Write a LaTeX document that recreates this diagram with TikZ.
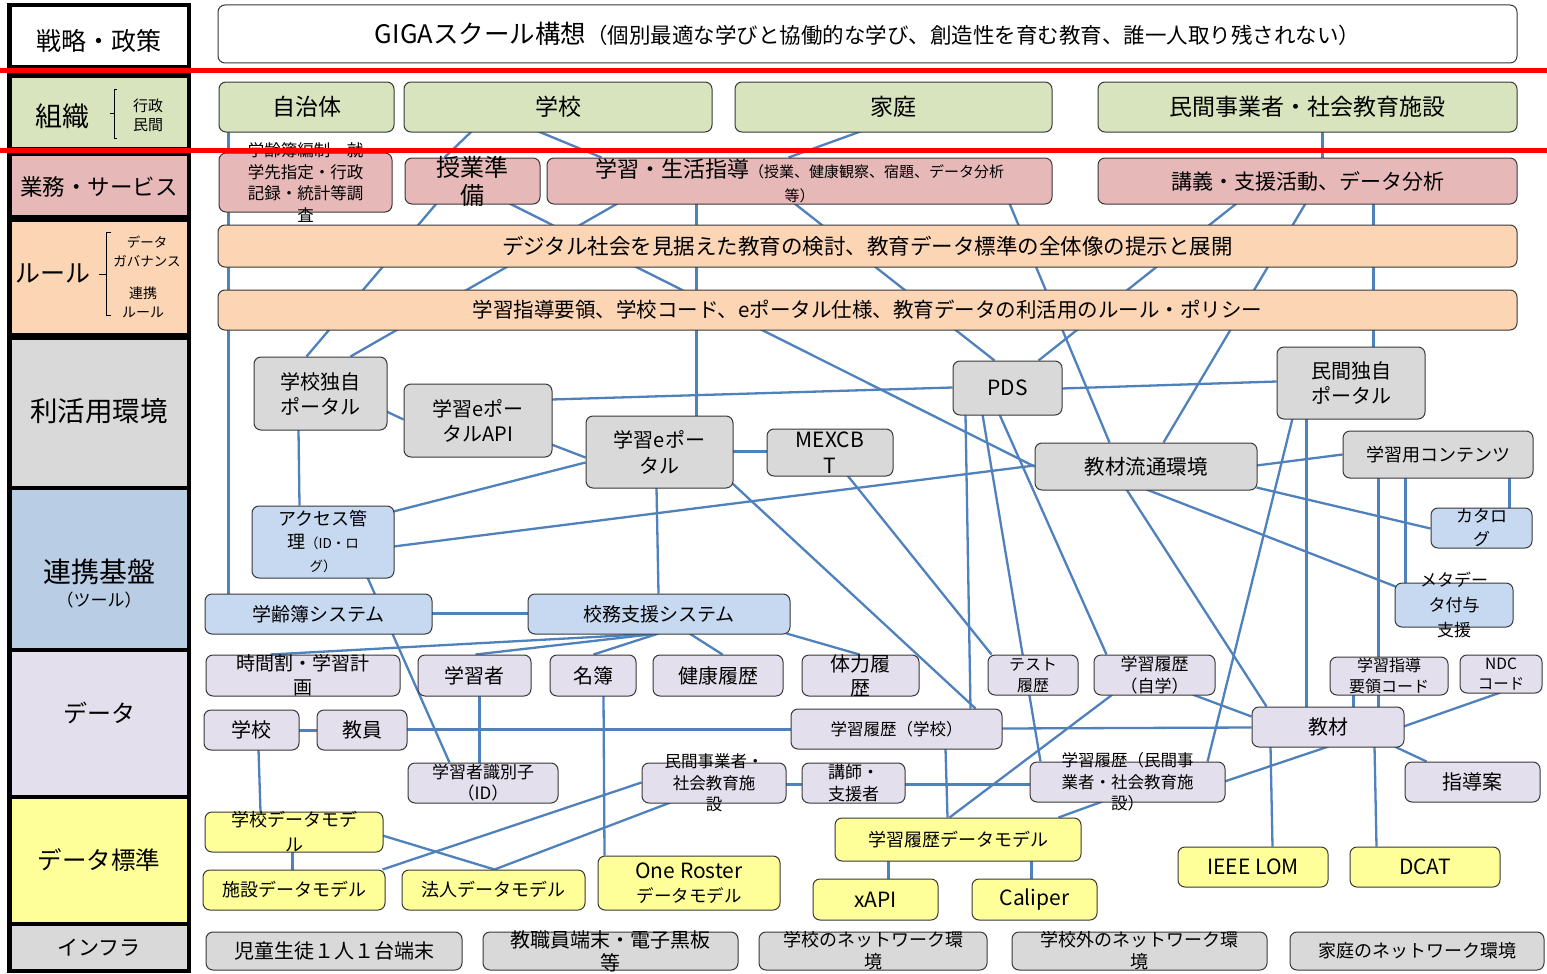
\documentclass[tikz,border=0pt]{standalone}
\usepackage{fontspec}
\setmainfont{Noto Sans CJK JP}
\usetikzlibrary{backgrounds}
\definecolor{cgreen}{HTML}{D7E4BD}
\definecolor{cpink}{HTML}{E6B9B8}
\definecolor{cpeach}{HTML}{FCD5B5}
\definecolor{cgrey}{HTML}{D9D9D9}
\definecolor{cblue}{HTML}{C6D9F1}
\definecolor{cbluecat}{HTML}{B9CDE5}
\definecolor{clav}{HTML}{E4DFEC}
\definecolor{cyel}{HTML}{FFFF99}
\definecolor{cline}{HTML}{4F81BD}
\newcommand\fs[2]{\fontsize{#1}{#2}\selectfont}
\newcommand\bx[8]{\node[#6, minimum width={(#4-#2)*1pt}, minimum height={(#5-#3)*1pt}, label={[lab,#7]center:{#8}}] (#1) at ({(#2+#4)/2},{(#3+#5)/2}) {};}
\newcommand\cn[6]{\draw[conn] ([xshift=#2pt,yshift=-#3pt]#1.north west) -- ([xshift=#5pt,yshift=-#6pt]#4.north west);}
\tikzset{
 lab/.style={inner sep=0pt, align=center, text=black},
 box/.style={draw=black!78, line width=1pt, rounded corners=7pt, inner sep=0pt},
 bw/.style={box, fill=white},
 bg/.style={box, fill=cgreen},
 bp/.style={box, fill=cpink},
 bo/.style={box, fill=cpeach},
 bgr/.style={box, fill=cgrey},
 bb/.style={box, fill=cblue},
 bl/.style={box, fill=clav},
 by/.style={box, fill=cyel},
 cat/.style={draw=black, line width=4.5pt, inner sep=0pt},
 ct/.style={inner sep=0pt, align=center, text=black},
 conn/.style={draw=cline, line width=2.3pt},
 redl/.style={draw=red, line width=5pt},
 brk/.style={draw=black, line width=1pt},
}
\begin{document}
\begin{tikzpicture}[x=1pt,y=-1pt]
\useasboundingbox (0,0) rectangle (1547,974);
\begin{pgfonlayer}{background}
\fill[white] (0,0) rectangle (1547,974);
\end{pgfonlayer}
% ---------- left category column ----------
\bx{c-senryaku}{9.5}{5}{189}{67}{cat,fill=white}{}{}
\bx{c-soshiki}{9.5}{75.5}{189}{149.5}{cat,fill=cgreen}{}{}
\bx{c-gyomu}{9.5}{154}{189}{217}{cat,fill=cpink}{}{}
\bx{c-rule}{9.5}{220}{189}{335}{cat,fill=cpeach}{}{}
\bx{c-rikatsu}{9.5}{338}{189}{488}{cat,fill=cgrey}{}{}
\bx{c-renkei}{9.5}{488}{189}{650}{cat,fill=cbluecat}{}{}
\bx{c-data}{9.5}{650}{189}{797}{cat,fill=clav}{}{}
\bx{c-hyojun}{9.5}{797}{189}{924}{cat,fill=cyel}{}{}
\bx{c-infra}{9.5}{924}{189}{971}{cat,fill=cgrey}{}{}
\node[ct,font=\fs{25}{30}] (ct-senryaku) at (99,41) {戦略・政策};
\node[ct,font=\fs{27}{30}] (ct-soshiki) at (62,116) {組織};
\node[ct,font=\fs{15}{19}] (ct-gyosei) at (148,115) {行政\\民間};
\node[ct,font=\fs{22.5}{30}] (ct-gyomu) at (99,187) {業務・サービス};
\node[ct,font=\fs{25}{30}] (ct-rule) at (53,273) {ルール};
\node[ct,font=\fs{13.5}{19}] (ct-gov) at (147,252) {データ\\ガバナンス};
\node[ct,font=\fs{14}{19}] (ct-renkeirule) at (143,302) {連携\\ルール};
\node[ct,font=\fs{27.5}{30}] (ct-rikatsu) at (99,411) {利活用環境};
\node[ct,font=\fs{28}{30}] (ct-renkei) at (99,572) {連携基盤};
\node[ct,font=\fs{17}{22}] (ct-tool) at (99,600) {（ツール）};
\node[ct,font=\fs{24}{30}] (ct-data) at (99,713) {データ};
\node[ct,font=\fs{24.5}{30}] (ct-hyojun) at (99,860) {データ標準};
\node[ct,font=\fs{21}{26}] (ct-infra) at (99,948) {インフラ};
\draw[brk] (117,89) -- (114,89) -- (114,138) -- (117,138) (114,113) -- (110,113);
\draw[brk] (111,232) -- (106,232) -- (106,315) -- (111,315) (106,274) -- (99,274);
% ---------- strategy ----------
\bx{giga}{218}{5}{1517}{63}{bw}{}{{\fs{25.5}{30}GIGAスクール構想}{\fs{21.5}{30}（個別最適な学びと協働的な学び、創造性を育む教育、誰一人取り残されない）}}
% ---------- organisation ----------
\bx{o-jichi}{219}{82}{394}{132}{bg}{font=\fs{23}{28}}{自治体}
\bx{o-gakko}{404}{82}{712}{132}{bg}{font=\fs{23}{28}}{学校}
\bx{o-katei}{735}{82}{1052}{132}{bg}{font=\fs{23}{28}}{家庭}
\bx{o-minkan}{1098}{82}{1517}{132}{bg}{font=\fs{23}{28}}{民間事業者・社会教育施設}
% ---------- services ----------
\bx{s-gakurei}{219}{153}{392}{212}{bp}{font=\fs{16.5}{21.7}}{学齢簿編制・就\\学先指定・行政\\記録・統計等調\\査}
\bx{s-jugyo}{405}{158}{540}{204}{bp}{font=\fs{24}{28}}{授業準\\備}
\bx{s-gakushu}{547}{158}{1052}{204}{bp}{font=\fs{15}{24}}{{\fs{22}{24}学習・生活指導}（授業、健康観察、宿題、データ分析\\等）}
\bx{s-kogi}{1098}{158}{1517}{204}{bp}{font=\fs{21}{26}}{講義・支援活動、データ分析}
% ---------- rules ----------
\bx{r-1}{218}{225}{1517}{267}{bo}{font=\fs{21.5}{26}}{デジタル社会を見据えた教育の検討、教育データ標準の全体像の提示と展開}
\bx{r-2}{218}{290}{1517}{330}{bo}{font=\fs{20.5}{26}}{学習指導要領、学校コード、eポータル仕様、教育データの利活用のルール・ポリシー}
% ---------- usage environment ----------
\bx{u-gportal}{254}{357}{387}{430}{bgr}{font=\fs{20}{25}}{学校独自\\ポータル}
\bx{u-api}{404}{384}{552}{457}{bgr}{font=\fs{20}{25}}{学習eポー\\タルAPI}
\bx{u-eportal}{586}{416}{733}{488}{bgr}{font=\fs{20}{26}}{学習eポー\\タル}
\bx{u-mexcbt}{767}{429}{893}{476}{bgr}{font=\fs{21}{26}}{MEXCB\\T}
\bx{u-pds}{953}{361}{1062}{415}{bgr}{font=\fs{21}{26}}{PDS}
\bx{u-mportal}{1277}{347}{1425}{419}{bgr}{font=\fs{20}{25}}{民間独自\\ポータル}
\bx{u-kyozai}{1035}{443}{1257}{490}{bgr}{font=\fs{20.5}{26}}{教材流通環境}
\bx{u-contents}{1343}{431}{1533}{478}{bgr}{font=\fs{18}{24}}{学習用コンテンツ}
% ---------- platform ----------
\bx{t-access}{252}{506}{394}{578}{bb}{font=\fs{18}{23}}{アクセス管\\理{\fs{13.5}{23}（ID・ロ}\\{\fs{13.5}{21}グ）}}
\bx{t-catalog}{1431}{508}{1532}{548}{bb}{font=\fs{17}{23}}{カタロ\\グ}
\bx{t-meta}{1395}{583}{1513}{627}{bb}{font=\fs{17}{25}}{メタデー\\タ付与\\支援}
\bx{t-gakurei}{205}{594}{432}{634}{bb}{font=\fs{19}{24}}{学齢簿システム}
\bx{t-komu}{528}{594}{790}{634}{bb}{font=\fs{19}{24}}{校務支援システム}
% ---------- data ----------
\bx{d-jikan}{206}{655}{400}{696}{bl}{font=\fs{19}{24}}{時間割・学習計\\画}
\bx{d-gakusha}{418}{655}{531}{696}{bl}{font=\fs{20}{24}}{学習者}
\bx{d-meibo}{550}{655}{636}{696}{bl}{font=\fs{20}{24}}{名簿}
\bx{d-kenko}{653}{655}{783}{696}{bl}{font=\fs{20}{24}}{健康履歴}
\bx{d-tairyoku}{802}{655}{919}{696}{bl}{font=\fs{20}{24}}{体力履\\歴}
\bx{d-test}{988}{655}{1078}{695}{bl}{font=\fs{16}{21}}{テスト\\履歴}
\bx{d-jigaku}{1094}{655}{1215}{695}{bl}{font=\fs{17}{22}}{学習履歴\\（自学）}
\bx{d-shido}{1330}{657}{1448}{695}{bl}{font=\fs{16}{21}}{学習指導\\要領コード}
\bx{d-ndc}{1460}{655}{1542}{693}{bl}{font=\fs{15.5}{20}}{NDC\\コード}
\bx{d-gakko}{204}{710}{299}{750}{bl}{font=\fs{20}{24}}{学校}
\bx{d-kyoin}{317}{710}{407}{750}{bl}{font=\fs{20}{24}}{教員}
\bx{d-rgakko}{791}{709}{1002}{749}{bl}{font=\fs{16.5}{22}}{学習履歴（学校）}
\bx{d-kyozai}{1252}{707}{1404}{747}{bl}{font=\fs{20}{24}}{教材}
\bx{d-id}{408}{763}{558}{803}{bl}{font=\fs{17}{21}}{学習者識別子\\（ID）}
\bx{d-minkan}{642}{763}{786}{803}{bl}{font=\fs{16.5}{21.5}}{民間事業者・\\社会教育施\\設}
\bx{d-koshi}{802}{763}{905}{803}{bl}{font=\fs{17}{22}}{講師・\\支援者}
\bx{d-rminkan}{1030}{762}{1225}{802}{bl}{font=\fs{16.5}{21.5}}{学習履歴（民間事\\業者・社会教育施\\設）}
\bx{d-shidoan}{1405}{762}{1540}{802}{bl}{font=\fs{20}{24}}{指導案}
% ---------- data standards ----------
\bx{m-gakko}{205}{812}{383}{852}{by}{font=\fs{18}{25}}{学校データモデ\\ル}
\bx{m-shisetsu}{203}{870}{385}{910}{by}{font=\fs{18}{24}}{施設データモデル}
\bx{m-hojin}{402}{870}{585}{910}{by}{font=\fs{18}{24}}{法人データモデル}
\bx{m-oneroster}{598}{856}{780}{910}{by}{font=\fs{17.5}{24}}{{\fs{21}{24}One Roster}\\データモデル}
\bx{m-rireki}{835}{818}{1081}{861}{by}{font=\fs{18}{24}}{学習履歴データモデル}
\bx{m-xapi}{813}{879}{938}{920}{by}{font=\fs{21}{24}}{xAPI}
\bx{m-caliper}{972}{879}{1097}{920}{by}{font=\fs{21}{24}}{Caliper}
\bx{m-lom}{1178}{847}{1328}{887}{by}{font=\fs{21}{24}}{IEEE LOM}
\bx{m-dcat}{1350}{847}{1500}{887}{by}{font=\fs{21}{24}}{DCAT}
% ---------- infrastructure ----------
\bx{i-1}{206}{932}{462}{970}{bgr}{font=\fs{20}{24}}{児童生徒１人１台端末}
\bx{i-2}{483}{932}{738}{970}{bgr}{font=\fs{20}{23}}{教職員端末・電子黒板\\等}
\bx{i-3}{759}{932}{987}{970}{bgr}{font=\fs{18}{22}}{学校のネットワーク環\\境}
\bx{i-4}{1012}{932}{1267}{970}{bgr}{font=\fs{18}{22}}{学校外のネットワーク環\\境}
\bx{i-5}{1290}{932}{1544}{970}{bgr}{font=\fs{18}{22}}{家庭のネットワーク環境}
% ---------- connectors (behind boxes) ----------
\begin{pgfonlayer}{background}
\cn{o-jichi}{10}{50}{t-gakurei}{24}{0}
\cn{o-gakko}{68}{50}{s-jugyo}{40}{0}
\cn{o-gakko}{135}{50}{s-gakushu}{55}{0}
\cn{o-katei}{126}{50}{s-gakushu}{242}{0}
\cn{o-minkan}{225}{50}{s-kogi}{225}{0}
\cn{s-jugyo}{32}{46}{u-gportal}{53}{0}
\cn{s-gakushu}{71}{46}{u-gportal}{97}{0}
\cn{s-jugyo}{105}{46}{u-kyozai}{0}{24}
\cn{s-gakushu}{150}{46}{u-eportal}{111}{0}
\cn{s-gakushu}{248}{46}{u-pds}{42}{0}
\cn{s-gakushu}{463}{46}{u-kyozai}{75}{0}
\cn{s-kogi}{139}{46}{u-pds}{86}{0}
\cn{s-kogi}{208}{46}{u-kyozai}{129}{0}
\cn{s-kogi}{276}{46}{u-mportal}{97}{0}
\cn{u-gportal}{133}{55}{u-api}{0}{36}
\cn{u-api}{148}{16}{u-pds}{0}{27}
\cn{u-pds}{109}{28}{u-mportal}{0}{35}
\cn{u-api}{148}{61}{u-eportal}{0}{42}
\cn{u-eportal}{147}{36}{u-mexcbt}{0}{23}
\cn{u-eportal}{0}{47}{t-access}{142}{6}
\cn{t-access}{142}{41}{u-kyozai}{0}{23}
\cn{u-gportal}{45}{73}{t-access}{48}{0}
\cn{u-eportal}{71}{72}{t-komu}{131}{0}
\cn{u-eportal}{147}{68}{d-rgakko}{185}{0}
\cn{t-gakurei}{227}{20}{t-komu}{0}{20}
\cn{t-access}{116}{72}{d-id}{42}{0}
\cn{t-komu}{131}{40}{d-jikan}{65}{0}
\cn{t-komu}{131}{40}{d-gakusha}{58}{0}
\cn{t-komu}{131}{40}{d-meibo}{44}{0}
\cn{t-komu}{162}{40}{d-kenko}{70}{0}
\cn{t-komu}{259}{40}{d-tairyoku}{58}{0}
\cn{u-mexcbt}{81}{47}{d-test}{4}{0}
\cn{u-pds}{13}{54}{d-rgakko}{180}{0}
\cn{u-pds}{30}{54}{d-rminkan}{11}{0}
\cn{u-pds}{47}{54}{d-jigaku}{13}{0}
\cn{u-mportal}{16}{72}{d-rminkan}{178}{0}
\cn{u-mportal}{30}{72}{d-kyozai}{55}{0}
\cn{u-kyozai}{92}{47}{d-kyozai}{15}{0}
\cn{u-kyozai}{222}{45}{t-catalog}{0}{21}
\cn{u-kyozai}{112}{47}{t-meta}{1}{4}
\cn{u-kyozai}{222}{23}{u-contents}{0}{24}
\cn{u-contents}{36}{47}{d-kyozai}{127}{0}
\cn{u-contents}{63}{47}{t-meta}{11}{0}
\cn{u-contents}{167}{47}{t-catalog}{79}{0}
\cn{d-gakusha}{62}{41}{d-id}{72}{0}
\cn{d-meibo}{54}{41}{m-oneroster}{7}{0}
\cn{d-gakko}{95}{21}{d-kyoin}{0}{21}
\cn{d-kyoin}{90}{20}{d-rgakko}{0}{21}
\cn{d-gakko}{55}{40}{m-gakko}{56}{0}
\cn{m-gakko}{88}{40}{m-shisetsu}{90}{0}
\cn{m-gakko}{178}{24}{m-hojin}{93}{0}
\cn{m-shisetsu}{180}{0}{d-minkan}{0}{20}
\cn{m-hojin}{93}{0}{d-minkan}{29}{40}
\cn{d-minkan}{144}{22}{d-koshi}{0}{22}
\cn{d-koshi}{103}{22}{d-rminkan}{0}{23}
\cn{d-rgakko}{155}{40}{m-rireki}{113}{0}
\cn{d-jigaku}{19}{40}{m-rireki}{115}{0}
\cn{d-rminkan}{73}{40}{m-rireki}{224}{0}
\cn{d-rminkan}{195}{20}{d-kyozai}{77}{40}
\cn{d-rgakko}{211}{20}{d-kyozai}{0}{21}
\cn{d-jigaku}{99}{40}{d-kyozai}{0}{10}
\cn{d-kyozai}{19}{40}{m-lom}{95}{0}
\cn{d-kyozai}{123}{40}{m-dcat}{27}{0}
\cn{d-kyozai}{143}{40}{d-shidoan}{22}{0}
\cn{d-kyozai}{152}{20}{d-ndc}{41}{38}
\cn{d-kyozai}{102}{0}{d-shido}{24}{38}
\cn{m-rireki}{54}{43}{m-xapi}{76}{0}
\cn{m-rireki}{197}{43}{m-caliper}{60}{0}
\end{pgfonlayer}
% ---------- red separators (on top) ----------
\draw[redl] (0,71) -- (1547,71);
\draw[redl] (0,150.5) -- (1547,150.5);
\end{tikzpicture}
\end{document}
